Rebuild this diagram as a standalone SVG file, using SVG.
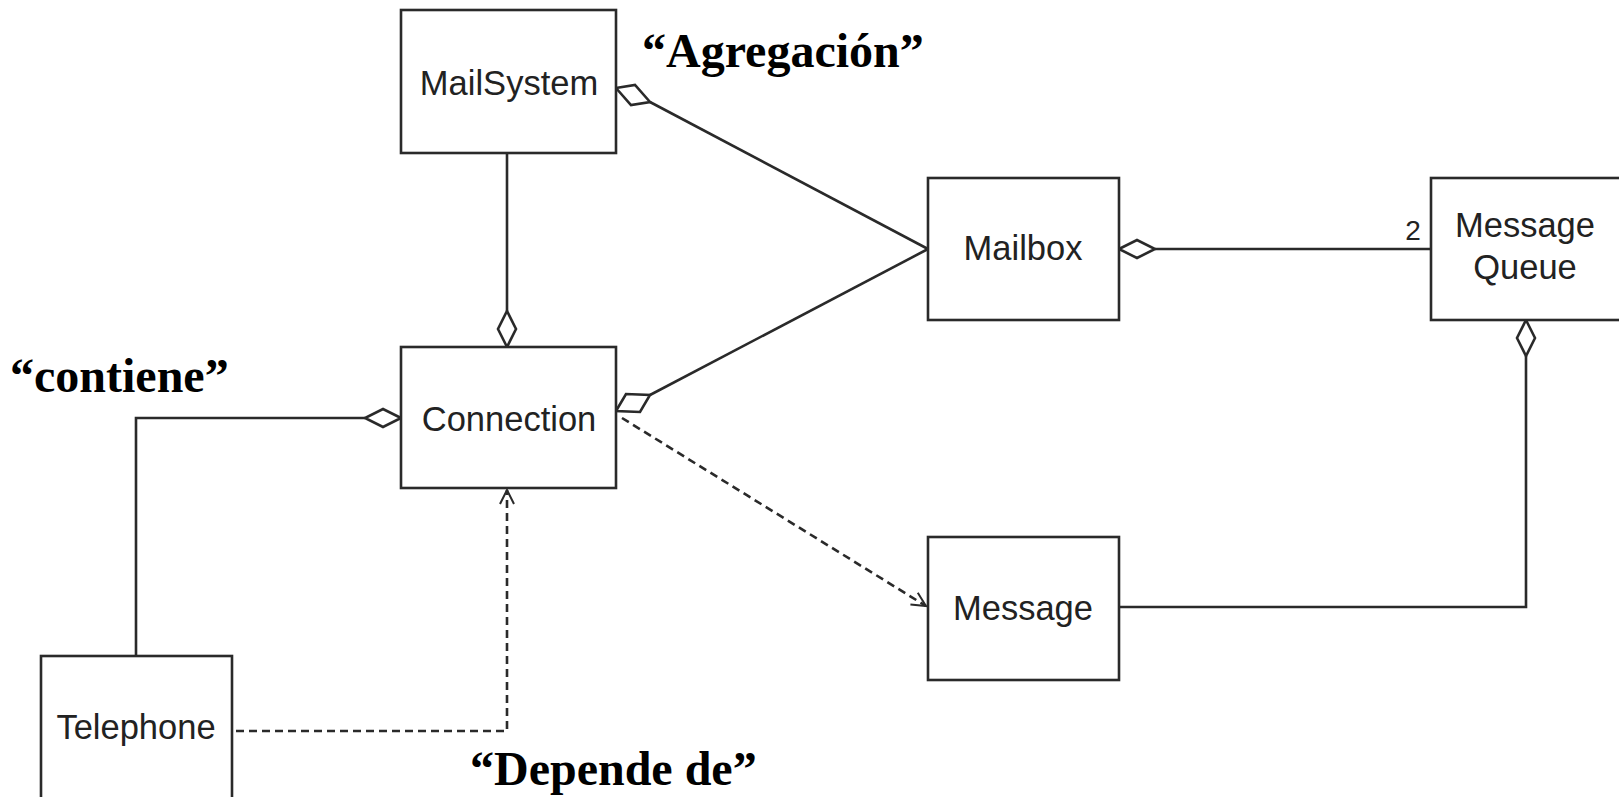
<svg xmlns="http://www.w3.org/2000/svg" width="1619" height="797" viewBox="0 0 1619 797">
<defs>
<style>
.box{fill:#fff;stroke:#2a2a2a;stroke-width:2.6}
.lbl{font-family:"Liberation Sans",Arial,sans-serif;font-size:34.5px;fill:#222;text-anchor:middle}
.note{font-family:"Liberation Serif","Times New Roman",serif;font-weight:bold;font-size:48px;fill:#000}
.ln{fill:none;stroke:#2a2a2a;stroke-width:2.6}
.dash{fill:none;stroke:#2a2a2a;stroke-width:2.6;stroke-dasharray:8 5}
.dia{fill:#fff;stroke:#2a2a2a;stroke-width:2.6}
</style>
<marker id="open" viewBox="0 0 20 20" refX="18" refY="10" markerWidth="20" markerHeight="20" markerUnits="userSpaceOnUse" orient="auto">
<path d="M4,3 L18,10 L4,17" fill="none" stroke="#2a2a2a" stroke-width="2"/>
</marker>
</defs>
<rect width="1619" height="797" fill="#fff"/>
<g id="connectors">
<path class="ln" d="M650,102 L928,249"/>
<path class="dia" d="M616,88 L635,85 L650,102 L631,105 Z"/>
<path class="ln" d="M650,395 L928,249"/>
<path class="dia" d="M616,411 L626,394 L650,395 L640,412 Z"/>
<path class="ln" d="M507,153 L507,311"/>
<path class="dia" d="M507,347 L498,329 L507,311 L516,329 Z"/>
<path class="ln" d="M136,656 L136,418 L365,418"/>
<path class="dia" d="M401,418 L383,409 L365,418 L383,427 Z"/>
<path class="dash" d="M236,731 L507,731 L507,490" marker-end="url(#open)"/>
<path class="dash" d="M622,418 L926,606" marker-end="url(#open)"/>
<path class="ln" d="M1155,249 L1431,249"/>
<path class="dia" d="M1119,249 L1137,240 L1155,249 L1137,258 Z"/>
<path class="ln" d="M1119,607 L1526,607 L1526,356"/>
<path class="dia" d="M1526,320 L1535,338 L1526,356 L1517,338 Z"/>
</g>
<g id="MailSystem">
<rect class="box" x="401" y="10" width="215" height="143"/>
<text class="lbl" x="509" y="95">MailSystem</text>
</g>
<g id="Connection">
<rect class="box" x="401" y="347" width="215" height="141"/>
<text class="lbl" x="509" y="431">Connection</text>
</g>
<g id="Mailbox">
<rect class="box" x="928" y="178" width="191" height="142"/>
<text class="lbl" x="1023" y="260">Mailbox</text>
</g>
<g id="MessageQueue">
<rect class="box" x="1431" y="178" width="200" height="142"/>
<text class="lbl" x="1525" y="237">Message</text>
<text class="lbl" x="1525" y="279">Queue</text>
<text class="lbl" x="1413" y="240" style="font-size:28px">2</text>
</g>
<g id="Message">
<rect class="box" x="928" y="537" width="191" height="143"/>
<text class="lbl" x="1023" y="620">Message</text>
</g>
<g id="Telephone">
<rect class="box" x="41" y="656" width="191" height="160"/>
<text class="lbl" x="136" y="739">Telephone</text>
</g>
<g id="notes">
<text class="note" x="642" y="67">“Agregación”</text>
<text class="note" x="10" y="392">“contiene”</text>
<text class="note" x="470" y="785">“Depende de”</text>
</g>
</svg>
